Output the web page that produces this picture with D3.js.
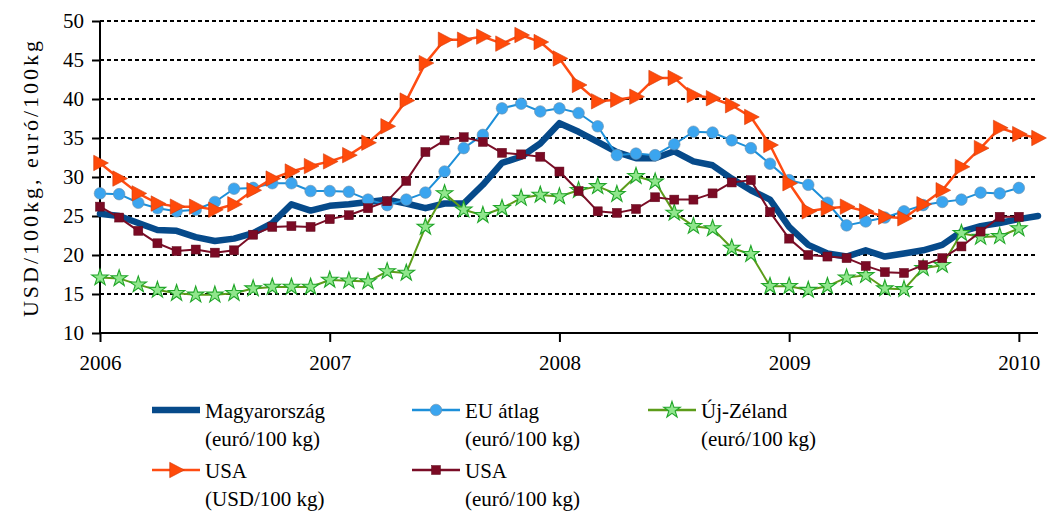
<!DOCTYPE html>
<html><head><meta charset="utf-8">
<script src="https://cdn.jsdelivr.net/npm/d3@7"></script>
<style>
html,body{margin:0;padding:0;background:#fff;}
svg{display:block;font-family:"Liberation Serif","DejaVu Serif",serif;}
</style></head>
<body><svg id="c" width="1048" height="511"></svg>
<script>
const months = d3.range(50); // Jan 2006 .. Feb 2010
const yearLabels = ["2006","2007","2008","2009","2010"];
const yearTicks = [0,12,24,36,48];
const yTicks = [10,15,20,25,30,35,40,45,50];

const hu = [25.3,25.0,24.1,23.2,23.1,22.3,21.8,22.1,22.8,24.1,26.5,25.7,26.3,26.5,26.8,27.1,26.6,26.0,26.6,26.6,29.0,31.8,32.6,34.3,36.9,35.8,34.5,33.2,32.4,32.4,33.3,32.0,31.5,29.8,28.3,27.1,23.6,21.3,20.2,19.8,20.6,19.8,20.2,20.6,21.3,23.0,23.7,24.1,24.6,25.0];
const eu = [27.9,27.8,26.7,26.0,25.6,25.8,26.8,28.5,28.6,29.2,29.2,28.2,28.2,28.1,27.1,26.4,27.1,28.0,30.7,33.7,35.4,38.8,39.4,38.4,38.8,38.2,36.5,32.8,33.0,32.8,34.2,35.8,35.7,34.7,33.7,31.7,29.6,29.0,26.7,23.8,24.3,24.8,25.6,26.4,26.8,27.1,28.0,27.9,28.6,null];
const nz = [17.1,17.0,16.2,15.5,15.1,14.9,14.9,15.1,15.7,15.9,15.9,15.9,16.8,16.7,16.6,17.9,17.7,23.6,27.9,25.8,25.1,26.0,27.3,27.7,27.5,28.3,28.8,27.8,30.1,29.4,25.4,23.7,23.4,20.9,20.1,16.0,16.0,15.5,16.0,17.1,17.4,15.7,15.6,18.3,18.7,22.8,22.3,22.4,23.4,null];
const usaUsd = [31.8,29.8,27.9,26.6,26.2,26.2,25.8,26.5,28.3,29.8,30.7,31.4,32.0,32.8,34.4,36.5,39.8,44.6,47.6,47.6,48.0,47.1,48.2,47.3,45.2,41.8,39.7,39.9,40.3,42.7,42.7,40.5,40.1,39.2,37.7,34.1,29.2,25.6,26.0,26.2,25.6,24.9,24.7,26.5,28.3,31.3,33.7,36.3,35.5,35.0];
const usaEur = [26.2,24.8,23.1,21.5,20.5,20.7,20.3,20.6,22.6,23.6,23.7,23.6,24.6,25.1,26.0,26.9,29.5,33.2,34.7,35.1,34.5,33.1,32.9,32.6,30.7,28.2,25.6,25.4,25.9,27.4,27.1,27.1,27.9,29.3,29.6,25.5,22.1,20.0,19.8,19.6,18.6,17.8,17.7,18.7,19.6,21.1,23.0,24.9,24.9,null];

const svg = d3.select("#c");
const x = d3.scaleLinear().domain([0,49]).range([100,1038]);
const y = d3.scaleLinear().domain([10,50]).range([333,21]);

// gridlines
svg.append("g").selectAll("line").data(yTicks.filter(v=>v>10)).join("line")
  .attr("x1",100).attr("x2",1038).attr("y1",d=>y(d)).attr("y2",d=>y(d))
  .attr("stroke","#000").attr("stroke-width",2).attr("stroke-dasharray","4,3");

// axes
const yAxis = svg.append("g").attr("transform","translate(100,0)")
  .call(d3.axisLeft(y).tickValues(yTicks).tickSize(8).tickPadding(8).tickFormat(d3.format("d")));
const xAxis = svg.append("g").attr("transform","translate(0,333)")
  .call(d3.axisBottom(x).tickValues(yearTicks).tickSize(9).tickPadding(13).tickFormat((d,i)=>yearLabels[i]));
[yAxis,xAxis].forEach(a=>{
  a.attr("font-family",null);
  a.select(".domain").attr("stroke","#000").attr("stroke-width",2);
  a.selectAll(".tick line").attr("stroke","#000").attr("stroke-width",2);
  a.selectAll("text").attr("font-size",21).attr("fill","#000");
});
yAxis.select(".domain").attr("d","M0,"+y(50)+"V"+y(10));
xAxis.select(".domain").attr("d","M100,0H1038");

// y title
svg.append("text").attr("transform","translate(38,179) rotate(-90)")
  .attr("text-anchor","middle").attr("font-size",22).attr("textLength",276).attr("lengthAdjust","spacing")
  .text("USD/100kg, euró/100kg");

const line2 = arr => d3.line().defined(d=>d.v!=null).x(d=>x(d.i)).y(d=>y(d.v))(arr.map((v,i)=>({v,i})));

const starPath = d3.symbol().type(d3.symbolStar).size(85)();
const triPath = (s)=>`M${-s*0.45},${-s*0.55}L${s*0.6},0L${-s*0.45},${s*0.55}Z`;

const series = [
  {name:["Magyarország","(euró/100 kg)"], data:hu, color:"#064a8a", w:6.5, marker:null},
  {name:["EU átlag","(euró/100 kg)"], data:eu, color:"#1c8fd9", w:2, marker:"circle", fill:"#3ba5ef", mstroke:"#6f8fa8"},
  {name:["Új-Zéland","(euró/100 kg)"], data:nz, color:"#5c9c1a", w:2, marker:"star", fill:"#90e68c", mstroke:"#22a62a"},
  {name:["USA","(USD/100 kg)"], data:usaUsd, color:"#ff4c12", w:2.5, marker:"tri", fill:"#ff4a0a", mstroke:"#d23d0c"},
  {name:["USA","(euró/100 kg)"], data:usaEur, color:"#7a0d26", w:2, marker:"square", fill:"#7b0a24", mstroke:"#5e0a1c"}
];

function drawMarker(g, s, cx, cy){
  if(s.marker==="circle") g.append("circle").attr("cx",cx).attr("cy",cy).attr("r",5.8).attr("fill",s.fill).attr("stroke",s.mstroke).attr("stroke-width",0.6);
  else if(s.marker==="star") g.append("path").attr("d",starPath).attr("transform",`translate(${cx},${cy})`).attr("fill",s.fill).attr("stroke",s.mstroke).attr("stroke-width",1.1);
  else if(s.marker==="tri") g.append("path").attr("d",triPath(14)).attr("transform",`translate(${cx},${cy})`).attr("fill",s.fill).attr("stroke",s.mstroke).attr("stroke-width",0.6);
  else if(s.marker==="square") g.append("rect").attr("x",cx-4.5).attr("y",cy-4.5).attr("width",9).attr("height",9).attr("fill",s.fill).attr("stroke",s.mstroke).attr("stroke-width",0.5);
}

series.forEach(s=>{
  const g = svg.append("g");
  g.append("path").attr("d",line2(s.data)).attr("fill","none").attr("stroke",s.color)
    .attr("stroke-width",s.w).attr("stroke-linejoin","round").attr("stroke-linecap","round");
  if(s.marker){
    s.data.forEach((v,i)=>{ if(v!=null) drawMarker(g,s,x(i),y(v)); });
  }
});

// legend
const legPos = [[152,410],[412,410],[648,410],[152,470],[412,470]];
series.forEach((s,k)=>{
  const [lx,ly] = legPos[k];
  const g = svg.append("g");
  g.append("line").attr("x1",lx).attr("x2",lx+48).attr("y1",ly).attr("y2",ly)
    .attr("stroke",s.color).attr("stroke-width",s.marker?2.5:6.5);
  if(s.marker) drawMarker(g,s,lx+24,ly);
  const t = g.append("text").attr("font-size",21).attr("fill","#000");
  t.append("tspan").attr("x",lx+53).attr("y",ly+8).text(s.name[0]);
  t.append("tspan").attr("x",lx+53).attr("y",ly+36).text(s.name[1]);
});
</script></body></html>
